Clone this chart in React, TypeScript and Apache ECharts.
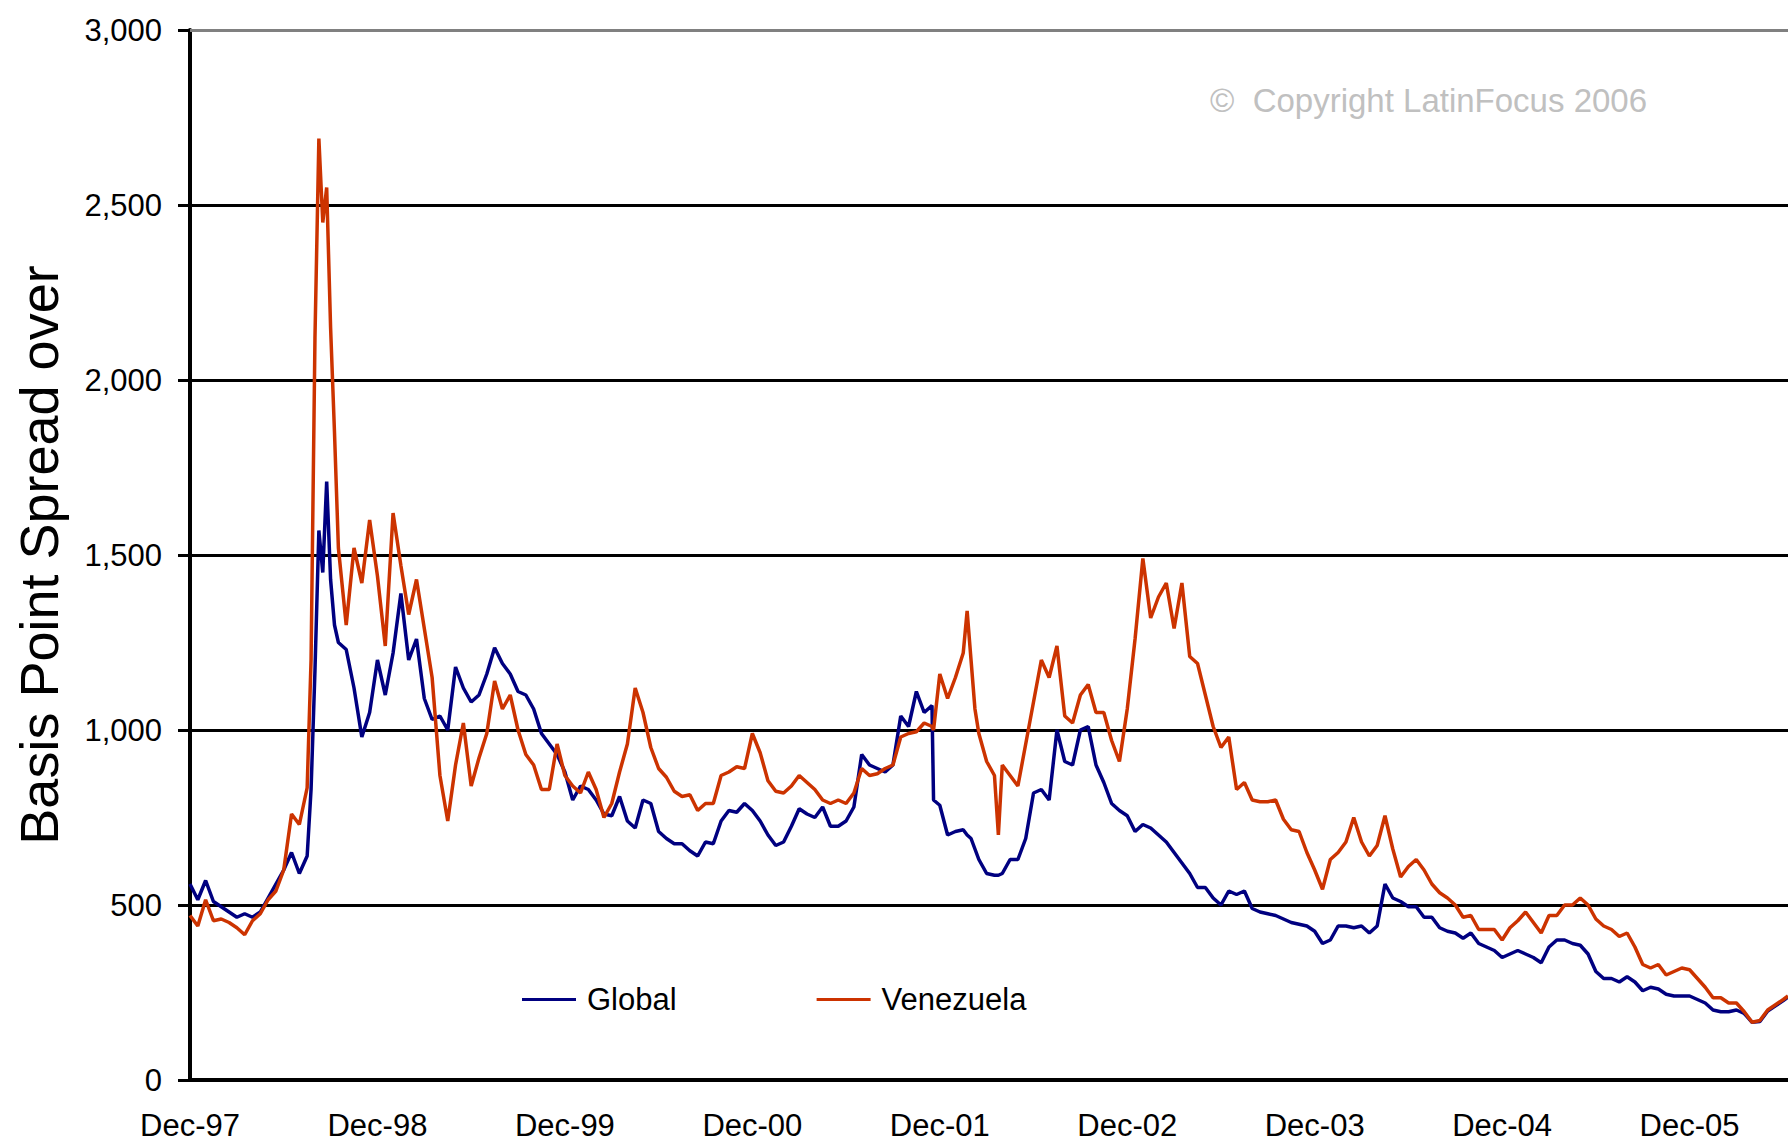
import React, { useEffect, useRef } from "react";
import * as echarts from "echarts";

// x positions: months elapsed since December 1997
const months = [
  0, 0.5, 1, 1.5, 2, 2.5, 3, 3.5, 4, 4.5, 5, 5.5, 6, 6.5, 7, 7.5, 7.75, 8, 8.25, 8.5, 8.75, 9, 9.25, 9.5, 10, 10.5, 11, 11.5,
  12, 12.5, 13, 13.5, 14, 14.5, 15, 15.5, 16, 16.5, 17, 17.5, 18, 18.5, 19, 19.5, 20, 20.5, 21, 21.5, 22, 22.5, 23, 23.5,
  24, 24.5, 25, 25.5, 26, 26.5, 27, 27.5, 28, 28.5, 29, 29.5, 30, 30.5, 31, 31.5, 32, 32.5, 33, 33.5, 34, 34.5, 35, 35.5,
  36, 36.5, 37, 37.5, 38, 38.5, 39, 39.5, 40, 40.5, 41, 41.5, 42, 42.5, 43, 43.5, 44, 44.5, 45, 45.5, 46, 46.5, 47, 47.5, 47.6,
  48, 48.5, 49, 49.5, 49.75, 50, 50.25, 50.5, 51, 51.5, 51.75, 52, 52.5, 53, 53.5, 54, 54.5, 55, 55.5, 56, 56.5, 57, 57.5, 58, 58.5, 59, 59.5,
  60, 60.5, 61, 61.5, 62, 62.5, 63, 63.5, 64, 64.5, 65, 65.5, 66, 66.5, 67, 67.5, 68, 68.5, 69, 69.5, 70, 70.5, 71, 71.5,
  72, 72.5, 73, 73.5, 74, 74.5, 75, 75.5, 76, 76.5, 77, 77.5, 78, 78.5, 79, 79.5, 80, 80.5, 81, 81.5, 82, 82.5, 83, 83.5,
  84, 84.5, 85, 85.5, 86, 86.5, 87, 87.5, 88, 88.5, 89, 89.5, 90, 90.5, 91, 91.5, 92, 92.5, 93, 93.5, 94, 94.5, 95, 95.5,
  96, 96.5, 97, 97.5, 98, 98.5, 99, 99.5, 100, 100.5, 101, 101.5, 102, 102.3,
];

const globalSpread = [
  560, 515, 570, 510, 495, 480, 465, 475, 465, 480, 520, 560, 600, 650, 590, 640, 830, 1170, 1570, 1450, 1710, 1430, 1300, 1250, 1230, 1120, 980, 1050,
  1200, 1100, 1220, 1390, 1200, 1260, 1090, 1030, 1040, 1000, 1180, 1120, 1080, 1100, 1160, 1235, 1190, 1160, 1110, 1100, 1060, 990, 960, 930,
  880, 800, 840, 830, 800, 760, 755, 810, 740, 720, 800, 790, 710, 690, 675, 675, 655, 640, 680, 675, 740, 770, 765, 790,
  770, 740, 700, 670, 680, 725, 775, 760, 750, 780, 725, 725, 740, 780, 930, 900, 890, 880, 900, 1040, 1010, 1110, 1050, 1070, 800,
  785, 700, 710, 715, 700, 690, 660, 630, 590, 585, 585, 590, 630, 630, 690, 820, 830, 800, 1000, 910, 900, 1000, 1010, 900, 850, 790, 770,
  755, 710, 730, 720, 700, 680, 650, 620, 590, 550, 550, 520, 500, 540, 530, 540, 490, 480, 475, 470, 460, 450, 445, 440,
  425, 390, 400, 440, 440, 435, 440, 420, 440, 560, 520, 510, 495, 495, 465, 465, 435, 425, 420, 405, 420, 390, 380, 370,
  350, 360, 370, 360, 350, 335, 380, 400, 400, 390, 385, 360, 310, 290, 290, 280, 295, 280, 255, 265, 260, 245, 240, 240,
  240, 230, 220, 200, 195, 195, 200, 190, 165, 167, 197, 212, 227, 237,
];

const venezuelaSpread = [
  470, 440, 515, 455, 460, 450, 435, 415, 455, 475, 515, 540, 600, 760, 730, 835, 1200, 2120, 2690, 2450, 2550, 2150, 1850, 1520, 1300, 1520, 1420, 1600,
  1440, 1240, 1620, 1470, 1330, 1430, 1290, 1150, 870, 740, 900, 1020, 840, 920, 990, 1140, 1060, 1100, 1000, 930, 900, 830, 830, 960,
  870, 840, 820, 880, 830, 750, 790, 880, 960, 1120, 1050, 950, 890, 865, 825, 810, 815, 770, 790, 790, 870, 880, 895, 890,
  990, 935, 855, 825, 820, 840, 870, 850, 830, 800, 790, 800, 790, 820, 890, 870, 875, 890, 900, 980, 990, 995, 1020, 1010, 1000,
  1160, 1090, 1150, 1220, 1340, 1200, 1060, 990, 910, 870, 700, 900, 870, 840, 960, 1080, 1200, 1150, 1240, 1040, 1020, 1100, 1130, 1050, 1050, 970, 910,
  1060, 1260, 1490, 1320, 1380, 1420, 1290, 1420, 1210, 1190, 1100, 1010, 950, 980, 830, 850, 800, 795, 795, 800, 745, 715, 710, 650,
  600, 545, 630, 650, 680, 750, 680, 640, 670, 755, 660, 580, 610, 630, 600, 560, 535, 520, 500, 465, 470, 430, 430, 430,
  400, 435, 455, 480, 450, 420, 470, 470, 500, 500, 520, 500, 460, 440, 430, 410, 420, 380, 330, 320, 330, 300, 310, 320,
  315, 290, 265, 235, 235, 220, 220, 195, 165, 170, 200, 215, 230, 240,
];

const xTickLabels = ["Dec-97", "Dec-98", "Dec-99", "Dec-00", "Dec-01", "Dec-02", "Dec-03", "Dec-04", "Dec-05"];
const seriesNames = ["Global", "Venezuela"];
const seriesColors = ["#000080", "#cc3300"];
const copyrightText = "\u00a9  Copyright LatinFocus 2006";
const yAxisTitle = "Basis Point Spread over";

export default function App() {
  const ref = useRef<HTMLDivElement>(null);

  useEffect(() => {
    document.body.style.margin = "0";
    const chart = echarts.init(ref.current as HTMLDivElement, null, { renderer: "svg" });
    const font = "'Liberation Sans', Arial, sans-serif";
    chart.setOption({
      animation: false,
      backgroundColor: "#ffffff",
      textStyle: { fontFamily: font },
      title: {
        text: copyrightText,
        left: 1205,
        top: 79,
        textStyle: { fontSize: 33, color: "#c0c0c0", fontWeight: "normal", fontFamily: font },
      },
      legend: {
        left: 517,
        top: 979,
        icon: "rect",
        itemWidth: 54,
        itemHeight: 3,
        itemGap: 140,
        data: seriesNames,
        textStyle: { fontSize: 31, color: "#000", fontFamily: font, padding: [0, 0, 0, 6] },
      },
      grid: { left: 190, right: 0, top: 30, bottom: 63, outerBoundsMode: "none", containLabel: false },
      xAxis: {
        type: "value",
        min: 0,
        max: 102.3,
        interval: 12,
        axisLine: { lineStyle: { color: "#000", width: 4 } },
        axisTick: { show: false },
        splitLine: { show: false },
        axisLabel: {
          fontSize: 31,
          color: "#000",
          margin: 30,
          showMaxLabel: false,
          fontFamily: font,
          formatter: (v: number) => {
            const i = Math.round(v / 12);
            return Math.abs(v - i * 12) < 1e-6 ? xTickLabels[i] ?? "" : "";
          },
        },
      },
      yAxis: {
        type: "value",
        min: 0,
        max: 3000,
        interval: 500,
        name: yAxisTitle,
        nameLocation: "middle",
        nameGap: 124,
        nameRotate: 90,
        nameTextStyle: { fontSize: 54, color: "#000", fontFamily: font },
        axisLine: { show: true, lineStyle: { color: "#000", width: 4 } },
        axisTick: { show: true, length: 12, lineStyle: { color: "#000", width: 3 } },
        axisLabel: {
          fontSize: 31,
          color: "#000",
          margin: 28,
          fontFamily: font,
          formatter: (v: number) => v.toLocaleString("en-US"),
        },
        splitLine: { show: true, showMaxLine: false, lineStyle: { color: "#000", width: 3 } },
      },
      series: [
        {
          name: seriesNames[0],
          type: "line",
          data: months.map((m, i) => [m, globalSpread[i]]),
          showSymbol: false,
          symbol: "none",
          lineStyle: { color: seriesColors[0], width: 3.5 },
          itemStyle: { color: seriesColors[0] },
          emphasis: { disabled: true },
          markLine: {
            silent: true,
            symbol: "none",
            label: { show: false },
            lineStyle: { color: "#808080", width: 3, type: "solid" },
            data: [{ yAxis: 3000 }],
          },
        },
        {
          name: seriesNames[1],
          type: "line",
          data: months.map((m, i) => [m, venezuelaSpread[i]]),
          showSymbol: false,
          symbol: "none",
          lineStyle: { color: seriesColors[1], width: 3.5 },
          itemStyle: { color: seriesColors[1] },
          emphasis: { disabled: true },
        },
      ],
    });
    return () => chart.dispose();
  }, []);

  return <div ref={ref} style={{ width: 1788, height: 1143 }} />;
}
